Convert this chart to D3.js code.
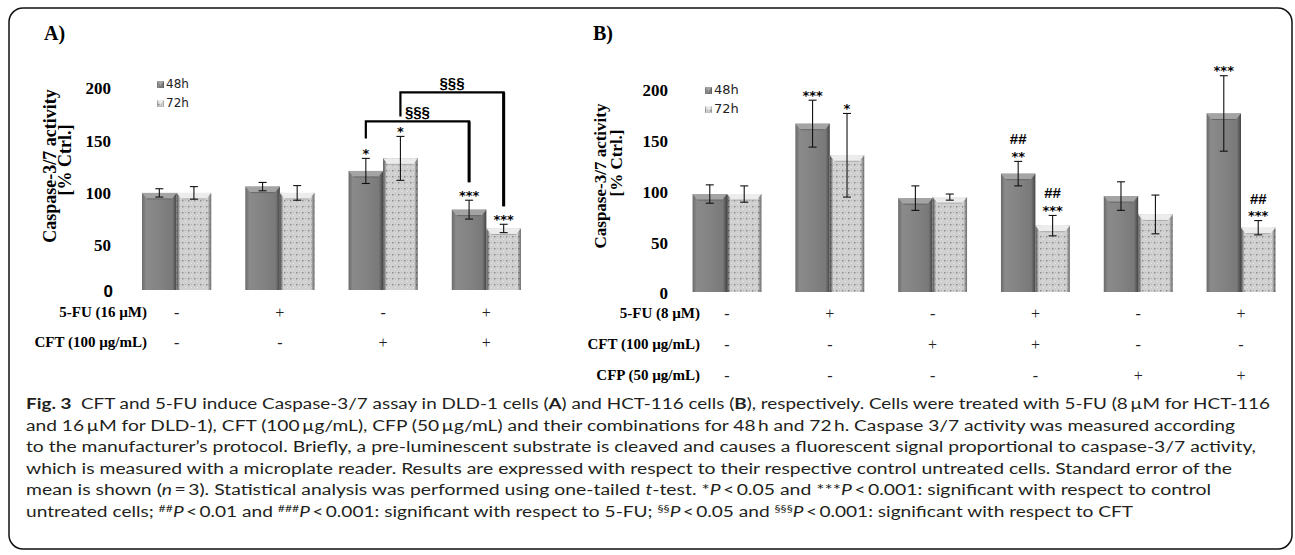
<!DOCTYPE html>
<html>
<head>
<meta charset="utf-8">
<title>Caspase-3/7 activity</title>
<script src="https://d3js.org/d3.v7.min.js"></script>
<style>
  body { margin: 0; background: #fff; }
</style>
</head>
<body>
<div class="chart"></div>
<script>
// ---- data ----
let seriesNames = ["48h", "72h"];
let yTicks = [50, 100, 150, 200];

// panel A, DLD-1
let groupsA = ["c", "f", "t", "ft"];
let valuesA48 = [100, 106, 121, 84];
let errorsA48 = [4, 4, 12, 9];
let valuesA72 = [100, 100, 133, 66];
let errorsA72 = [6, 7, 21, 4];
let marksA48 = [[], [], ["*"], ["***"]];
let marksA72 = [[], [], ["*"], ["***"]];
let rowLabelsA = ["5-FU (16 \u00b5M)", "CFT (100 \u00b5g/mL)"];
let signsA = [["-", "+", "-", "+"], ["-", "-", "+", "+"]];
let bracketsA = [
    { from: ["t", "48h"], to: ["ft", "48h"], label: "\u00a7\u00a7\u00a7" },
    { from: ["t", "72h"], to: ["ft", "72h"], label: "\u00a7\u00a7\u00a7" }
];

// panel B, HCT-116
let groupsB = ["c", "f", "t", "ft", "p", "fp"];
let valuesB48 = [98, 167, 94, 118, 96, 177];
let errorsB48 = [9, 23, 12, 12, 14, 37];
let valuesB72 = [98, 136, 95, 67, 78, 65];
let errorsB72 = [8, 41, 3, 10, 19, 7];
let marksB48 = [[], ["***"], [], ["**", "##"], [], ["***"]];
let marksB72 = [[], ["*"], [], ["***", "##"], [], ["***", "##"]];
let rowLabelsB = ["5-FU (8 \u00b5M)", "CFT (100 \u00b5g/mL)", "CFP (50 \u00b5g/mL)"];
let signsB = [["-", "+", "-", "+", "-", "+"], ["-", "-", "+", "+", "-", "-"], ["-", "-", "-", "-", "+", "+"]];

// caption, one array of [text, style] per printed line
let caption = [
    [["Fig. 3", "b"], ["\u2002CFT and 5-FU induce Caspase-3/7 assay in DLD-1 cells ("], ["A", "b"], [") and HCT-116 cells ("], ["B", "b"], ["), respectively. Cells were treated with 5-FU (8\u2009\u00b5M for HCT-116"]],
    [["and 16\u2009\u00b5M for DLD-1), CFT (100\u2009\u00b5g/mL), CFP (50\u2009\u00b5g/mL) and their combinations for 48\u2009h and 72\u2009h. Caspase 3/7 activity was measured according"]],
    [["to the manufacturer\u2019s protocol. Briefly, a pre-luminescent substrate is cleaved and causes a fluorescent signal proportional to caspase-3/7 activity,"]],
    [["which is measured with a microplate reader. Results are expressed with respect to their respective control untreated cells. Standard error of the"]],
    [["mean is shown ("], ["n", "i"], ["\u2009=\u20093). Statistical analysis was performed using one-tailed "], ["t", "i"], ["-test. *"], ["P", "i"], ["\u2009<\u20090.05 and ***"], ["P", "i"], ["\u2009<\u20090.001: significant with respect to control"]],
    [["untreated cells; "], ["##", "sup"], ["P", "i"], ["\u2009<\u20090.01 and "], ["###", "sup"], ["P", "i"], ["\u2009<\u20090.001: significant with respect to 5-FU; "], ["\u00a7\u00a7", "sup"], ["P", "i"], ["\u2009<\u20090.05 and "], ["\u00a7\u00a7\u00a7", "sup"], ["P", "i"], ["\u2009<\u20090.001: significant with respect to CFT"]]
];
let captionEnds = [1270, 1235, 1256, 1232, 1211, 1133];

// ---- drawing ----
let serif = "'Liberation Serif', 'Times New Roman', serif";
let sans = "'Liberation Sans', Arial, sans-serif";
let capFont = "Lato, 'Open Sans', sans-serif";

let svg = d3.select(".chart").append("svg")
    .attr("width", 1295)
    .attr("height", 555);

let defs = svg.append("defs");
let g48 = defs.append("linearGradient").attr("id", "g48");
[[0, "#6a6a6a"], [0.12, "#8a8a8a"], [0.5, "#838383"], [0.88, "#797979"], [1, "#444444"]]
    .forEach(s => g48.append("stop").attr("offset", s[0]).attr("stop-color", s[1]));
let p72 = defs.append("pattern").attr("id", "p72")
    .attr("patternUnits", "userSpaceOnUse").attr("width", 6).attr("height", 6);
p72.append("rect").attr("width", 6).attr("height", 6).attr("fill", "#d0d0d0");
p72.append("rect").attr("x", 2).attr("y", 2).attr("width", 1.4).attr("height", 1.4).attr("fill", "#878787");
p72.append("rect").attr("x", 5).attr("y", 5).attr("width", 1).attr("height", 1).attr("fill", "#e6e6e6");
p72.append("rect").attr("x", 5).attr("y", 2).attr("width", 1).attr("height", 1).attr("fill", "#b4b4b4");
let e72 = defs.append("linearGradient").attr("id", "e72");
[[0, "#333", 0.8], [0.1, "#000", 0], [0.9, "#000", 0], [1, "#3c3c3c", 0.65]]
    .forEach(s => e72.append("stop").attr("offset", s[0]).attr("stop-color", s[1]).attr("stop-opacity", s[2]));

// frame
svg.append("rect")
    .attr("x", 9).attr("y", 8).attr("width", 1283).attr("height", 541)
    .attr("rx", 14)
    .attr("fill", "none").attr("stroke", "#111").attr("stroke-width", 1.5);

function drawBar(g, x, y, w, h, kind) {
    let b = 5;
    g.append("rect").attr("x", x).attr("y", y).attr("width", w).attr("height", h)
        .attr("fill", kind == "48h" ? "url(#g48)" : "url(#p72)");
    if (kind == "72h") {
        g.append("rect").attr("x", x).attr("y", y).attr("width", w).attr("height", h)
            .attr("fill", "url(#e72)");
    }
    g.append("path")
        .attr("d", `M${x},${y}L${x + w},${y}L${x + w - b},${y + b + 1}L${x + b},${y + b + 1}Z`)
        .attr("fill", kind == "48h" ? "#a4a4a4" : "#ececec");
    g.append("line")
        .attr("x1", x + b).attr("x2", x + w - b).attr("y1", y + b + 1).attr("y2", y + b + 1)
        .attr("stroke", kind == "48h" ? "#666" : "#aaa").attr("stroke-width", 1);
}

function drawPanel(p) {
    let g = svg.append("g");
    let x = d3.scaleBand().domain(p.groups).range(p.xRange).paddingInner(0.33).paddingOuter(0.165);
    let xs = d3.scaleBand().domain(seriesNames).range([0, x.bandwidth()]);
    let y = d3.scaleLinear().domain([0, 200]).range(p.yRange);

    g.append("text")
        .attr("x", p.labelX).attr("y", 40)
        .attr("font-family", serif).attr("font-weight", "bold").attr("font-size", 20)
        .text(p.label);

    let ax = g.append("g")
        .attr("transform", "translate(" + p.axisX + ",0)")
        .call(d3.axisLeft(y).tickValues(yTicks).tickSize(0).tickPadding(0));
    ax.select(".domain").remove();
    ax.selectAll("text")
        .attr("font-family", serif).attr("font-weight", "bold").attr("font-size", 17).attr("fill", "#000");
    g.append("text")
        .attr("x", p.axisX + p.zeroDx).attr("y", p.floor + 1)
        .attr("dominant-baseline", "central").attr("text-anchor", "end")
        .attr("font-family", p.zeroFont).attr("font-weight", "bold").attr("font-size", 17)
        .text("0");

    p.titlePos.forEach((t, i) => {
        g.append("text")
            .attr("transform", "translate(" + t[0] + "," + t[1] + ") rotate(-90)")
            .attr("text-anchor", "middle").attr("dominant-baseline", "central")
            .attr("font-family", serif).attr("font-weight", "bold").attr("font-size", p.titleSize)
            .text(i == 0 ? "Caspase-3/7 activity" : "[% Ctrl.]");
    });

    // legend
    seriesNames.forEach((s, i) => {
        let ly = p.legend[1] + i * 19;
        drawBar(g, p.legend[0], ly - 7, 7, 7, s);
        g.append("text")
            .attr("x", p.legend[0] + 9).attr("y", ly)
            .attr("font-family", "'DejaVu Sans', Verdana, sans-serif").attr("font-size", p.legendSize)
            .attr("fill", "#222")
            .text(s);
    });

    let bars = [];
    p.groups.forEach((grp, i) => {
        seriesNames.forEach((s, j) => {
            bars.push({
                grp: grp, s: s,
                v: p.values[j][i], e: p.errors[j][i], marks: p.marks[j][i],
                x0: x(grp) + xs(s), cx: x(grp) + xs(s) + xs.bandwidth() / 2
            });
        });
    });

    bars.forEach(d => drawBar(g, d.x0, y(d.v), xs.bandwidth(), p.floor - y(d.v), d.s));

    let eb = g.append("g").attr("stroke", "#111").attr("stroke-width", 1.1);
    bars.forEach(d => {
        eb.append("line").attr("x1", d.cx).attr("x2", d.cx).attr("y1", y(d.v - d.e)).attr("y2", y(d.v + d.e));
        [d.v - d.e, d.v + d.e].forEach(v => {
            eb.append("line").attr("x1", d.cx - 4).attr("x2", d.cx + 4).attr("y1", y(v)).attr("y2", y(v));
        });
    });

    bars.forEach(d => {
        let top = y(d.v + d.e);
        d.marks.forEach((m, k) => {
            let star = m.indexOf("*") >= 0;
            g.append("text")
                .attr("x", d.cx).attr("y", k == 0 ? top - 0.5 : top - 17)
                .attr("text-anchor", "middle")
                .attr("font-family", star ? "'DejaVu Sans', sans-serif" : sans)
                .attr("font-weight", "bold").attr("font-size", star ? 13 : 15)
                .text(m);
        });
    });

    // significance brackets
    (p.brackets || []).forEach((br, level) => {
        let a = bars.find(d => d.grp == br.from[0] && d.s == br.from[1]);
        let b = bars.find(d => d.grp == br.to[0] && d.s == br.to[1]);
        let span = bars.filter(d => d.cx >= a.cx && d.cx <= b.cx);
        let hy = d3.min(span, d => y(d.v + d.e)) - 15 - level * 29;
        g.append("path")
            .attr("d", `M${a.cx},${y(a.v + a.e) - 20}V${hy}H${b.cx}V${y(b.v + b.e) - 18}`)
            .attr("fill", "none").attr("stroke", "#000").attr("stroke-width", 2.2);
        g.append("line")
            .attr("x1", b.cx).attr("x2", b.cx).attr("y1", hy).attr("y2", y(b.v + b.e) - 18)
            .attr("stroke", "#000").attr("stroke-width", 3);
        g.append("text")
            .attr("x", (a.cx + b.cx) / 2).attr("y", hy - 4)
            .attr("text-anchor", "middle")
            .attr("font-family", sans).attr("font-weight", "bold").attr("font-size", 15)
            .text(br.label);
    });

    // treatment table
    p.rows.forEach((r, i) => {
        let ry = p.rowY[i];
        g.append("text")
            .attr("x", p.rowX).attr("y", ry)
            .attr("text-anchor", "end").attr("dominant-baseline", "central")
            .attr("font-family", serif).attr("font-weight", "bold").attr("font-size", 15)
            .text(r);
        p.signs[i].forEach((s, k) => {
            g.append("text")
                .attr("x", x(p.groups[k]) + x.bandwidth() / 2).attr("y", ry)
                .attr("text-anchor", "middle").attr("dominant-baseline", "central")
                .attr("font-family", serif).attr("font-size", 16).attr("fill", "#222")
                .text(s);
        });
    });
}

drawPanel({
    label: "A)", labelX: 44,
    groups: groupsA,
    values: [valuesA48, valuesA72], errors: [errorsA48, errorsA72], marks: [marksA48, marksA72],
    xRange: [125, 538], yRange: [297.5, 88.3], floor: 290,
    axisX: 111, zeroDx: 2, zeroFont: sans,
    titlePos: [[50, 166], [65, 160]], titleSize: 18,
    legend: [157, 88], legendSize: 12,
    brackets: bracketsA,
    rows: rowLabelsA, signs: signsA, rowX: 147, rowY: [312, 342]
});

drawPanel({
    label: "B)", labelX: 593,
    groups: groupsB,
    values: [valuesB48, valuesB72], errors: [errorsB48, errorsB72], marks: [marksB48, marksB72],
    xRange: [675.6, 1292.4], yRange: [294, 90], floor: 292,
    axisX: 668, zeroDx: 0, zeroFont: serif,
    titlePos: [[600, 176], [616, 163]], titleSize: 17,
    legend: [705, 94], legendSize: 13,
    rows: rowLabelsB, signs: signsB, rowX: 700, rowY: [313, 344, 375]
});

// caption
caption.forEach((line, i) => {
    let t = svg.append("text")
        .attr("x", 26).attr("y", 409 + i * 21.5)
        .attr("font-family", capFont).attr("font-size", 15.5).attr("fill", "#231f20")
        .attr("textLength", captionEnds[i] - 26)
        .attr("lengthAdjust", "spacingAndGlyphs");
    let lift = 0;
    line.forEach(seg => {
        let ts = t.append("tspan").text(seg[0]);
        if (seg[1] == "b") ts.attr("font-weight", "bold");
        if (seg[1] == "i") ts.attr("font-style", "italic");
        if (seg[1] == "sup") {
            ts.attr("font-size", 10).attr("dy", -5);
            lift = 5;
        } else if (lift) {
            ts.attr("dy", lift);
            lift = 0;
        }
    });
});
</script>
</body>
</html>
